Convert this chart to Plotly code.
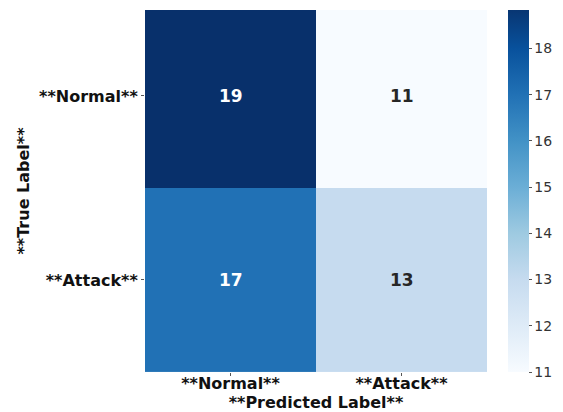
import numpy as np
import plotly.graph_objects as go

# Confusion matrix data
classes = ["**Normal**", "**Attack**"]
counts = [[19, 11],
          [17, 13]]
cbar_ticks = [11, 12, 13, 14, 15, 16, 17, 18]

zmin, zmax = 11, 19
bar_top = 18.83  # upper end shown on the colour bar

# ColorBrewer 9-class Blues
blues = ["#f7fbff", "#deebf7", "#c6dbef", "#9ecae1", "#6baed6",
         "#4292c6", "#2171b5", "#08519c", "#08306b"]
heat_scale = [[i / (len(blues) - 1), c] for i, c in enumerate(blues)]


def hex_rgb(h):
    h = h.lstrip("#")
    return np.array([int(h[i:i + 2], 16) for i in (0, 2, 4)], dtype=float)


def blues_at(v):
    """Colour of value v on the zmin..zmax Blues scale."""
    t = (v - zmin) / (zmax - zmin) * (len(blues) - 1)
    i = min(int(np.floor(t)), len(blues) - 2)
    f = t - i
    a, b = hex_rgb(blues[i]), hex_rgb(blues[i + 1])
    r, g, bb = (a + (b - a) * f).round().astype(int)
    return f"rgb({r},{g},{bb})"


# colour-bar scale: same colours, truncated at bar_top
bar_scale = []
for k in range(len(blues)):
    v = zmin + k
    if v >= bar_top:
        break
    bar_scale.append([(v - zmin) / (bar_top - zmin), blues[k]])
bar_scale.append([1.0, blues_at(bar_top)])

fig = go.Figure()
fig.add_trace(go.Heatmap(
    z=counts, x=[0, 1], y=[0, 1],
    zmin=zmin, zmax=zmax, colorscale=heat_scale,
    showscale=False, xgap=0, ygap=0, hoverinfo="z",
))

# invisible trace carrying the colour bar
fig.add_trace(go.Scatter(
    x=[None], y=[None], mode="markers", showlegend=False, hoverinfo="skip",
    marker=dict(
        color=[zmin], cmin=zmin, cmax=bar_top, colorscale=bar_scale,
        showscale=True,
        colorbar=dict(
            x=1.061, xanchor="left", xpad=0,
            y=1, yanchor="top", ypad=0, len=1, lenmode="fraction",
            thickness=21, outlinewidth=0,
            tickvals=cbar_ticks, ticks="outside", ticklen=3,
            tickcolor="#555", tickwidth=1,
            tickfont=dict(family="DejaVu Sans", size=14, color="#333333"),
        ),
    ),
))

# cell annotations
for r in range(2):
    for c in range(2):
        v = counts[r][c]
        col = "white" if v >= (zmin + zmax) / 2 else "#262626"
        fig.add_annotation(
            x=c, y=r, text=f"<b>{v}</b>", showarrow=False,
            font=dict(family="DejaVu Sans", size=17, color=col),
        )

bold16 = dict(family="DejaVu Sans", size=16, color="#111111")
fig.update_xaxes(
    tickvals=[0, 1], ticktext=[f"<b>{t}</b>" for t in classes],
    range=[-0.5, 1.5], showgrid=False, zeroline=False, automargin=False,
    ticks="outside", ticklen=3, tickcolor="#555", tickfont=bold16,
    ticklabelstandoff=-6,
    title=dict(text="<b>**Predicted Label**</b>", font=bold16, standoff=8),
)
fig.update_yaxes(
    tickvals=[0, 1], ticktext=[f"<b>{t}</b>" for t in classes],
    range=[1.5, -0.467], showgrid=False, zeroline=False, automargin=False,
    ticks="outside", ticklen=3, tickcolor="#555", tickfont=bold16,
    title=dict(text="<b>**True Label**</b>", font=bold16, standoff=5),
)

fig.update_layout(
    width=563, height=412,
    margin=dict(l=145, r=73, t=10, b=40),
    paper_bgcolor="white", plot_bgcolor="white",
    font=dict(family="DejaVu Sans"),
)

fig.write_html("out.html")
